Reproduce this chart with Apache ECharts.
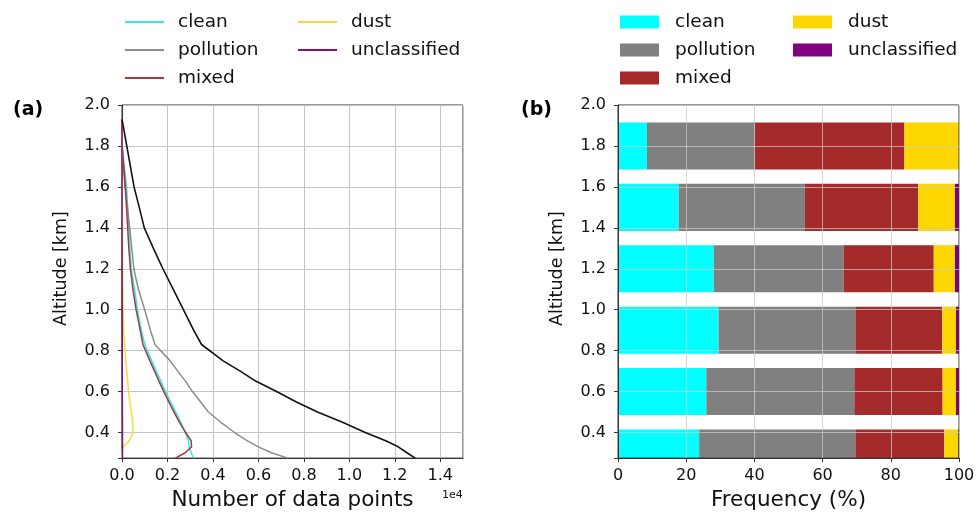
<!DOCTYPE html>
<html>
<head>
<meta charset="utf-8">
<script src="https://cdn.jsdelivr.net/npm/echarts@6/dist/echarts.min.js"></script>
<style>html,body{margin:0;padding:0;background:#fff;}#c{width:980px;height:516px;}</style>
</head>
<body>
<div id="c"></div>
<script>
// ---- Panel (a): number of data points vs altitude ----
const altitudes = [0.275, 0.30, 0.33, 0.36, 0.40, 0.45, 0.50, 0.55, 0.60, 0.65, 0.70, 0.75, 0.83, 0.90, 1.00, 1.10, 1.20, 1.30, 1.40, 1.50, 1.60, 1.70, 1.80, 1.90, 1.93];
const totalCount = [12900, 12550, 12150, 11600, 10700, 9700, 8600, 7650, 6800, 5900, 5200, 4450, 3500, 3150, 2700, 2250, 1800, 1380, 980, 760, 530, 370, 210, 50, 0];
const cleanCount = [3150, 3050, 2950, 2930, 2780, 2590, 2360, 2130, 1910, 1710, 1510, 1310, 1000, 850, 680, 550, 400, 350, 300, 250, 200, 100, 0, 0, 0];
const pollutionCount = [7300, 6600, 6000, 5500, 4950, 4350, 3800, 3450, 3100, 2800, 2450, 2120, 1450, 1250, 1000, 720, 520, 430, 340, 240, 130, 60, 10, 0, 0];
const mixedCount = [2350, 2760, 3060, 3040, 2800, 2530, 2290, 2060, 1840, 1630, 1430, 1230, 920, 800, 620, 480, 370, 300, 250, 200, 150, 80, 0, 0, 0];
const dustCount = [0, 0, 40, 320, 480, 470, 410, 350, 280, 250, 210, 170, 120, 70, 50, 40, 30, 25, 20, 15, 10, 0, 0, 0, 0];
const unclassifiedCount = [20, 20, 20, 20, 20, 18, 15, 15, 12, 12, 10, 10, 8, 8, 6, 5, 4, 3, 2, 1, 0, 0, 0, 0, 0];

// ---- Panel (b): frequency (%) per altitude bin ----
const barAltitudes = [0.3, 0.6, 0.9, 1.2, 1.5, 1.8];
const cleanPct = [23.8, 25.9, 29.5, 28.1, 17.8, 8.5];
const pollutionPct = [45.8, 43.4, 40.1, 38.1, 37.0, 31.6];
const mixedPct = [26.1, 25.9, 25.5, 26.4, 33.2, 43.9];
const dustPct = [4.1, 3.9, 4.0, 6.2, 10.8, 16.0];
const unclassifiedPct = [0.2, 0.9, 0.9, 1.2, 1.2, 0.0];

const classNames = ['clean', 'pollution', 'mixed', 'dust', 'unclassified'];
const classColors = ['#00ffff', '#808080', '#a52a2a', '#ffd700', '#800080'];
const lineColors = ['#30e8e8', '#8c8c8c', '#a03c3c', '#f0dc3c', '#801080'];
const countSeries = [cleanCount, pollutionCount, mixedCount, dustCount, unclassifiedCount];
const pctSeries = [cleanPct, pollutionPct, mixedPct, dustPct, unclassifiedPct];

const FONT = 'DejaVu Sans';
const BAR_H = 0.23;
const TXT = '#111';

const chart = echarts.init(document.getElementById('c'), null, {renderer: 'canvas'});

function pairs(vals) { return vals.map((v, i) => [v, altitudes[i]]); }

const series = [];
classNames.forEach((n, k) => {
  series.push({
    name: n, type: 'line', xAxisIndex: 0, yAxisIndex: 0,
    data: pairs(countSeries[k]), symbol: 'none', showSymbol: false,
    color: lineColors[k], lineStyle: {width: 1.5, color: lineColors[k]},
    z: 3, animation: false
  });
});
series.push({
  name: 'total', type: 'line', xAxisIndex: 0, yAxisIndex: 0,
  data: pairs(totalCount), symbol: 'none', showSymbol: false,
  color: '#111', lineStyle: {width: 1.6, color: '#111'}, z: 3, animation: false
});

// stacked horizontal bars via custom series
const cum = barAltitudes.map(() => 0);
classNames.forEach((n, k) => {
  const data = barAltitudes.map((a, i) => {
    const item = [a, cum[i], pctSeries[k][i]];
    cum[i] += pctSeries[k][i];
    return item;
  });
  series.push({
    name: n, type: 'custom', xAxisIndex: 1, yAxisIndex: 1,
    encode: {x: 1, y: 0}, clip: true, z: 1, animation: false,
    itemStyle: {color: classColors[k]},
    data: data,
    renderItem: function (params, api) {
      const y = api.value(0), s = api.value(1), l = api.value(2);
      if (!(l > 0)) return null;
      const p0 = api.coord([s, y + BAR_H / 2]);
      const p1 = api.coord([s + l, y - BAR_H / 2]);
      const cs = params.coordSys;
      let top = Math.max(p0[1], cs.y);
      let bot = Math.min(p1[1], cs.y + cs.height);
      return {
        type: 'rect',
        shape: {x: p0[0], y: top, width: p1[0] - p0[0], height: bot - top},
        style: {fill: classColors[k]}
      };
    }
  });
});

const gridCommon = {top: 105, height: 356, width: 341, show: true, borderColor: '#333', borderWidth: 1, backgroundColor: 'transparent'};
const tickLabel = {color: TXT, fontFamily: FONT, fontSize: 16};
const splitLine = {show: true, lineStyle: {color: '#c4c4c4', width: 1}};

function yAxisFor(gi, z) {
  return {
    type: 'value', gridIndex: gi, min: 0.275, max: 2.0, minInterval: 0.2, maxInterval: 0.2,
    z: z,
    name: 'Altitude [km]', nameLocation: 'middle', nameGap: 52,
    nameTextStyle: {color: TXT, fontFamily: FONT, fontSize: 17.5, padding: [0, 0, 0, 26]},
    axisLine: {show: true, lineStyle: {color: '#333', width: 1}},
    axisTick: {show: true, inside: false, length: 4, lineStyle: {color: '#333'}},
    axisLabel: Object.assign({margin: 12, formatter: v => (v < 0.3 ? '' : v.toFixed(1))}, tickLabel),
    splitLine: splitLine
  };
}

const legendBase = {
  orient: 'vertical', padding: 0, itemGap: 8, itemWidth: 39, itemHeight: 14,
  selectedMode: false,
  textStyle: {color: TXT, fontFamily: FONT, fontSize: 18.5, lineHeight: 20, padding: [0, 0, 0, 9]}
};

const option = {
  animation: false,
  backgroundColor: '#fff',
  grid: [
    Object.assign({left: 122}, gridCommon, {z: 0}),
    Object.assign({left: 618}, gridCommon, {z: 4})
  ],
  xAxis: [
    {
      type: 'value', gridIndex: 0, min: 0, max: 15000, interval: 2000,
      name: 'Number of data points', nameLocation: 'middle', nameGap: 30,
      nameTextStyle: {color: TXT, fontFamily: FONT, fontSize: 21.5},
      axisLine: {show: true, lineStyle: {color: '#333', width: 1}},
      axisTick: {show: true, inside: false, length: 4, lineStyle: {color: '#333'}},
      axisLabel: Object.assign({margin: 10, showMaxLabel: false, formatter: v => (v > 14500 ? '' : (v / 10000).toFixed(1))}, tickLabel),
      splitLine: splitLine
    },
    {
      type: 'value', gridIndex: 1, min: 0, max: 100, interval: 20, z: 5,
      name: 'Frequency (%)', nameLocation: 'middle', nameGap: 30,
      nameTextStyle: {color: TXT, fontFamily: FONT, fontSize: 21.5},
      axisLine: {show: true, lineStyle: {color: '#333', width: 1}},
      axisTick: {show: true, inside: false, length: 4, lineStyle: {color: '#333'}},
      axisLabel: Object.assign({margin: 10}, tickLabel),
      splitLine: {show: true, lineStyle: {color: 'rgba(200,200,200,0.75)', width: 1}}
    }
  ],
  yAxis: [yAxisFor(0, 0), Object.assign(yAxisFor(1, 5), {splitLine: {show: true, lineStyle: {color: 'rgba(200,200,200,0.75)', width: 1}}})],
  legend: [
    Object.assign({}, legendBase, {left: 124, top: 12, itemStyle: {opacity: 0}, data: ['clean', 'pollution', 'mixed']}),
    Object.assign({}, legendBase, {left: 297, top: 12, itemStyle: {opacity: 0}, data: ['dust', 'unclassified']}),
    Object.assign({}, legendBase, {left: 620, top: 12, icon: 'rect', itemHeight: 13,
      textStyle: Object.assign({}, legendBase.textStyle, {padding: [0, 0, 0, 11]}),
      data: classNames.slice(0, 3).map((n, k) => ({name: n, icon: 'rect', itemStyle: {color: classColors[k], opacity: 1}}))}),
    Object.assign({}, legendBase, {left: 793, top: 12, icon: 'rect', itemHeight: 13,
      textStyle: Object.assign({}, legendBase.textStyle, {padding: [0, 0, 0, 11]}),
      data: classNames.slice(3).map((n, k) => ({name: n, icon: 'rect', itemStyle: {color: classColors[k + 3], opacity: 1}}))})
  ],
  graphic: [
    {type: 'text', left: 13, top: 101, style: {text: '(a)', fontFamily: FONT, fontWeight: 'bold', fontSize: 19, fill: '#000'}},
    {type: 'text', left: 521, top: 101, style: {text: '(b)', fontFamily: FONT, fontWeight: 'bold', fontSize: 19, fill: '#000'}},
    {type: 'text', left: 442, top: 490, style: {text: '1e4', fontFamily: FONT, fontSize: 11, fill: TXT}}
  ],
  series: series
};
chart.setOption(option);
</script>
</body>
</html>
